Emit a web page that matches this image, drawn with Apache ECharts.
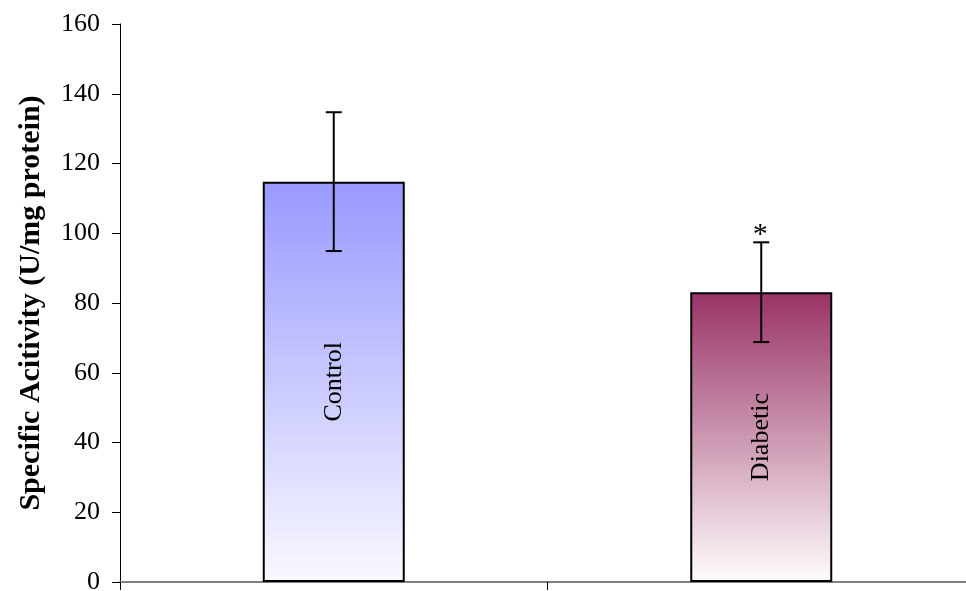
<!DOCTYPE html>
<html>
<head>
<meta charset="utf-8">
<script src="https://cdn.jsdelivr.net/npm/echarts@6/dist/echarts.min.js"></script>
<style>
  html, body { margin: 0; padding: 0; background: #fff; }
  #chart { width: 966px; height: 591px; }
</style>
</head>
<body>
<div id="chart"></div>
<script>
// Enzyme specific activity, mean ± error per group
const categories = ['Control', 'Diabetic'];
const meanValues = [114.8, 83.1];
const errorValues = [19.9, 14.3];
const significance = ['', '*'];
const yTicks = { min: 0, max: 160, interval: 20 };

const topColors = ['#9999FF', '#993366'];
const bottomColors = ['#F9F9FF', '#FFFCFD'];

const chart = echarts.init(document.getElementById('chart'), null, { renderer: 'canvas' });

const serif = 'Liberation Serif';

const barData = meanValues.map((v, i) => ({
  value: v,
  itemStyle: {
    color: new echarts.graphic.LinearGradient(0, 0, 0, 1, [
      { offset: 0, color: topColors[i] },
      { offset: 1, color: bottomColors[i] }
    ]),
    borderColor: '#000',
    borderWidth: 2
  }
}));

const errorData = meanValues.map((v, i) => [i, v - errorValues[i], v + errorValues[i], significance[i]]);

chart.setOption({
  animation: false,
  backgroundColor: '#fff',
  // the plot area runs a little past the right edge of the canvas
  grid: { left: 120, width: 855, top: 24, bottom: 9, containLabel: false, outerBoundsMode: 'none' },
  xAxis: {
    type: 'category',
    data: categories,
    boundaryGap: true,
    axisLine: { lineStyle: { color: '#808080', width: 2 } },
    axisTick: { show: true, inside: false, length: 8, lineStyle: { color: '#000', width: 1 } },
    axisLabel: { show: false }
  },
  yAxis: {
    type: 'value',
    min: yTicks.min,
    max: yTicks.max,
    interval: yTicks.interval,
    name: 'Specific Acitivity (U/mg protein)',
    nameLocation: 'middle',
    nameGap: 74,
    nameTextStyle: { fontFamily: serif, fontSize: 30, fontWeight: 'bold', color: '#000' },
    axisLine: { show: true, lineStyle: { color: '#000', width: 1 } },
    axisTick: { show: true, inside: false, length: 8, lineStyle: { color: '#000' } },
    axisLabel: { fontFamily: serif, fontSize: 26, color: '#000', margin: 20 },
    splitLine: { show: false }
  },
  series: [
    {
      type: 'bar',
      data: barData,
      barWidth: 142,
      label: {
        show: true,
        position: 'inside',
        rotate: 90,
        formatter: (p) => p.name,
        fontFamily: serif,
        fontSize: 26,
        color: '#000'
      },
      z: 2
    },
    {
      type: 'custom',
      data: errorData,
      z: 5,
      renderItem: function (params, api) {
        const x = api.value(0);
        const lo = api.coord([x, api.value(1)]);
        const hi = api.coord([x, api.value(2)]);
        const cap = 8;
        const style = { stroke: '#000', lineWidth: 2 };
        const children = [
          { type: 'line', shape: { x1: hi[0], y1: hi[1], x2: lo[0], y2: lo[1] }, style },
          { type: 'line', shape: { x1: hi[0] - cap, y1: hi[1], x2: hi[0] + cap, y2: hi[1] }, style },
          { type: 'line', shape: { x1: lo[0] - cap, y1: lo[1], x2: lo[0] + cap, y2: lo[1] }, style }
        ];
        const mark = significance[params.dataIndex];
        if (mark) {
          children.push({
            type: 'text',
            style: {
              text: mark,
              x: hi[0] - 1,
              y: hi[1] + 8,
              align: 'center',
              verticalAlign: 'bottom',
              font: '30px ' + serif,
              fill: '#000'
            }
          });
        }
        return { type: 'group', children };
      }
    }
  ]
});
</script>
</body>
</html>
